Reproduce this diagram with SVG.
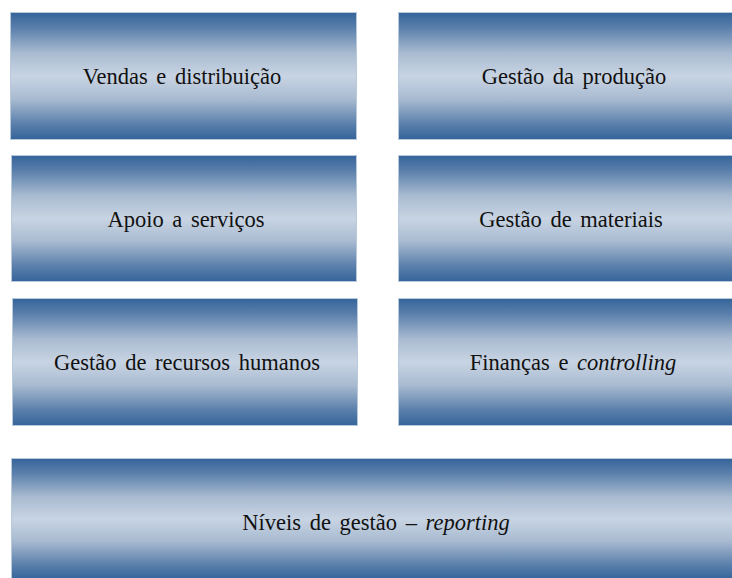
<svg xmlns="http://www.w3.org/2000/svg" width="732" height="578" viewBox="0 0 732 578">
<defs>
<linearGradient id="g" x1="0" y1="0" x2="0" y2="1">
<stop offset="0" stop-color="#35649a"/>
<stop offset="0.12" stop-color="#5a7fab"/>
<stop offset="0.32" stop-color="#a9bbd1"/>
<stop offset="0.5" stop-color="#c8d4e3"/>
<stop offset="0.68" stop-color="#a9bbd1"/>
<stop offset="0.88" stop-color="#5a7fab"/>
<stop offset="1" stop-color="#35649a"/>
</linearGradient>
</defs>
<style>
.lbl{fill:#111;text-anchor:middle;font-size:22.5px;word-spacing:3px}
</style>
<g id="n1"><rect fill="url(#g)" stroke="#b9c9dc" x="10.5" y="12.5" width="346" height="127"/><text x="182" y="84" font-family="Times New Roman, Liberation Serif, Tinos, serif" class="lbl">Vendas e distribuição</text></g>
<g id="n2"><rect fill="url(#g)" stroke="#b9c9dc" x="398.5" y="12.5" width="334" height="127"/><text x="574" y="84" font-family="Times New Roman, Liberation Serif, Tinos, serif" class="lbl">Gestão da produção</text></g>
<g id="n3"><rect fill="url(#g)" stroke="#b9c9dc" x="11.5" y="155.5" width="345" height="126"/><text x="186" y="227" font-family="Times New Roman, Liberation Serif, Tinos, serif" class="lbl">Apoio a serviços</text></g>
<g id="n4"><rect fill="url(#g)" stroke="#b9c9dc" x="398.5" y="155.5" width="334" height="126"/><text x="571" y="227" font-family="Times New Roman, Liberation Serif, Tinos, serif" class="lbl">Gestão de materiais</text></g>
<g id="n5"><rect fill="url(#g)" stroke="#b9c9dc" x="12.5" y="298.5" width="345" height="127"/><text x="187" y="370" font-family="Times New Roman, Liberation Serif, Tinos, serif" class="lbl">Gestão de recursos humanos</text></g>
<g id="n6"><rect fill="url(#g)" stroke="#b9c9dc" x="398.5" y="298.5" width="334" height="127"/><text x="573" y="370" font-family="Times New Roman, Liberation Serif, Tinos, serif" class="lbl">Finanças e <tspan font-style="italic">controlling</tspan></text></g>
<g id="n7"><rect fill="url(#g)" stroke="#b9c9dc" x="11.5" y="458.5" width="721" height="121"/><text x="376" y="530" font-family="Times New Roman, Liberation Serif, Tinos, serif" class="lbl">Níveis de gestão – <tspan font-style="italic">reporting</tspan></text></g>
<g id="connectors"/>
</svg>
